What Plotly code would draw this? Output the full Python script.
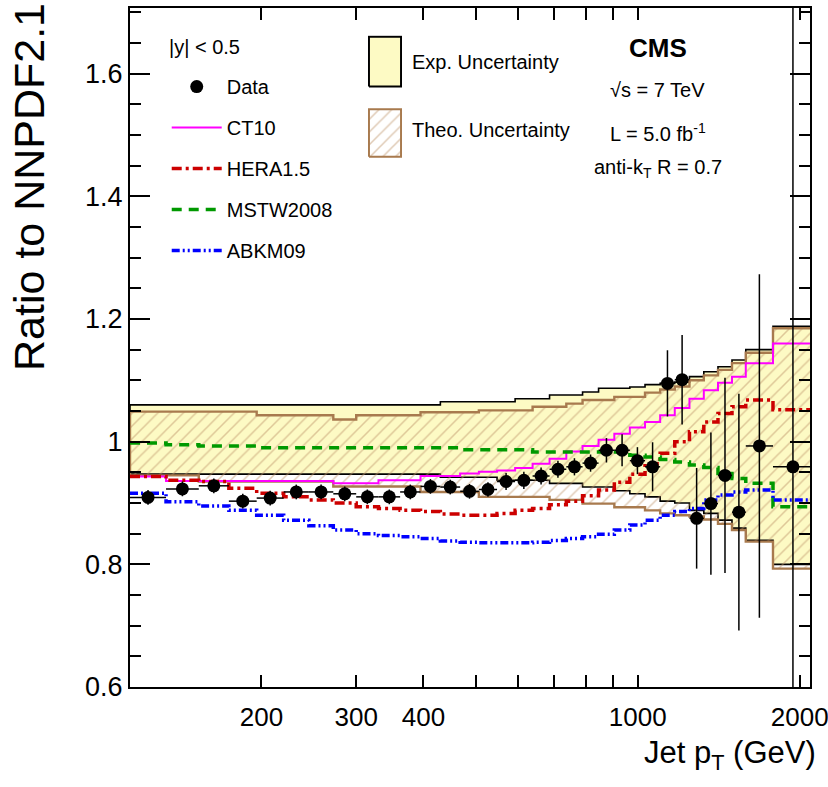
import numpy as np
import plotly.graph_objects as go

# ---------------- data ----------------
bin_edges = [114, 133, 153, 174, 196, 220, 245, 272, 300, 330, 362, 395, 430, 468,
             507, 548, 592, 638, 686, 737, 790, 846, 905, 967, 1032, 1101, 1172,
             1248, 1327, 1410, 1497, 1588, 1784, 2116]
x_range = [114, 2090]

data_ratio = [0.909, 0.923, 0.928, 0.903, 0.908, 0.918, 0.918, 0.915, 0.910, 0.910,
              0.918, 0.927, 0.926, 0.919, 0.922, 0.935, 0.937, 0.944, 0.955, 0.959,
              0.965, 0.986, 0.986, 0.969, 0.959, 1.095, 1.101, 0.875, 0.899, 0.945,
              0.885, 0.993, 0.959]
data_err = [0.012] * 15 + [0.014] * 6 + [0.02, 0.026, 0.022, 0.04, 0.054, 0.073,
                                         0.082, 0.116, 0.159, 0.193, 0.28, 0.8]

exp_up = [1.06] * 12 + [1.065] * 4 + [1.07] * 2 + [1.076] * 2 + [1.081] + [1.087] * 2 + \
         [1.089, 1.093, 1.095, 1.097, 1.106, 1.114, 1.122, 1.133, 1.150, 1.188]
exp_lo = [0.947] * 12 + [0.942] * 3 + [0.937] * 3 + [0.932] * 2 + [0.926] * 2 + \
         [0.920, 0.915, 0.910, 0.903, 0.900, 0.888, 0.883, 0.872, 0.859, 0.839, 0.800]
th_up = [1.049] * 4 + [1.043] * 3 + [1.036] + [1.043] * 3 + [1.048] * 3 + [1.051] * 3 + \
        [1.057] * 2 + [1.062] + [1.068] * 2 + [1.073] * 2 + \
        [1.080, 1.085, 1.090, 1.100, 1.108, 1.117, 1.128, 1.145, 1.185]
th_lo = [0.945] * 2 + [0.935] * 5 + [0.927] * 4 + [0.918] * 3 + [0.910] * 4 + [0.905] * 2 + \
        [0.899] * 2 + [0.893] * 2 + [0.888, 0.883, 0.880, 0.878, 0.873, 0.866, 0.856, 0.837, 0.793]

ct10 = [0.943] + [0.936] * 6 + [0.932] * 2 + [0.937] * 2 + [0.944] * 2 + [0.948] + \
       [0.951, 0.953, 0.957, 0.964, 0.972, 0.984, 0.993, 1.003, 1.013, 1.023, 1.032,
        1.043, 1.055, 1.07, 1.084, 1.096, 1.106, 1.128, 1.16]
hera = [0.943, 0.937, 0.935, 0.924, 0.916, 0.91, 0.905, 0.90, 0.894, 0.891, 0.888, 0.886,
        0.882, 0.88, 0.88, 0.883, 0.888, 0.891, 0.897, 0.903, 0.912, 0.921, 0.934, 0.947,
        0.964, 0.981, 1.0, 1.016, 1.032, 1.046, 1.057, 1.068, 1.052]
mstw = [0.998, 0.995, 0.993, 0.993] + [0.99] * 9 + [0.987] * 4 + [0.983] * 6 + \
       [0.978, 0.975, 0.971, 0.967, 0.962, 0.958, 0.948, 0.94, 0.932, 0.894]
abkm = [0.916, 0.902, 0.895, 0.888, 0.880, 0.872, 0.863, 0.856, 0.850, 0.847, 0.845, 0.842,
        0.838, 0.836, 0.835, 0.835, 0.835, 0.836, 0.839, 0.842, 0.845, 0.849, 0.856, 0.864,
        0.872, 0.880, 0.886, 0.891, 0.905, 0.913, 0.918, 0.921, 0.905]

x_ticks = [200, 300, 400, 1000, 2000]
x_tick_text = ["200", "300", "400", "1000", "2000"]
x_minor_ticks = [500, 600, 700, 800, 900]

# ---------------- helpers ----------------
edges = np.array(bin_edges, dtype=float)
lo, hi = edges[:-1], edges[1:]
centers = np.sqrt(lo * hi)


def step_xy(vals):
    xs, ys = [], []
    for a, b, v in zip(lo, hi, vals):
        xs += [a, b]
        ys += [v, v]
    return xs, ys


def band_polygon(up, dn):
    xu, yu = step_xy(up)
    xd, yd = step_xy(dn)
    return xu + xd[::-1] + [xu[0]], yu + yd[::-1] + [yu[0]]


FONT = "Liberation Sans, Arial, sans-serif"
YELLOW = "#fdfac4"
BROWN = "#a87a4e"
HATCH = dict(shape="/", fgcolor="#bf966b", bgcolor="rgba(0,0,0,0)", size=9, solidity=0.17)

fig = go.Figure()

# experimental uncertainty band
bx, by = band_polygon(exp_up, exp_lo)
fig.add_trace(go.Scatter(x=bx, y=by, mode="lines", fill="toself", fillcolor=YELLOW,
                         line=dict(color="black", width=1.6), name="Exp. Uncertainty",
                         showlegend=False, hoverinfo="skip"))
# theory uncertainty band (hatched)
tx, ty = band_polygon(th_up, th_lo)
fig.add_trace(go.Scatter(x=tx, y=ty, mode="lines", fill="toself",
                         fillcolor="rgba(0,0,0,0)", fillpattern=HATCH,
                         line=dict(color=BROWN, width=2.4), name="Theo. Uncertainty",
                         showlegend=False, hoverinfo="skip"))

xs_line = list(edges)


def add_model(vals, name, color, dash, width, rank):
    fig.add_trace(go.Scatter(x=xs_line, y=list(vals) + [vals[-1]], mode="lines",
                             line=dict(color=color, dash=dash, width=width, shape="hv"),
                             name=name, legendgroup=name, legendrank=rank))


add_model(ct10, "CT10", "#ff00ff", "solid", 2, 2)
add_model(hera, "HERA1.5", "#cc0000", "10px,4px,3px,4px", 3.5, 3)
add_model(mstw, "MSTW2008", "#009900", "10px,7px", 3.5, 4)
add_model(abkm, "ABKM09", "#0000ff", "8px,3px,2px,3px,2px,3px", 3.5, 5)

fig.add_trace(go.Scatter(
    x=centers, y=data_ratio, mode="markers", name="Data", legendgroup="Data", legendrank=1,
    marker=dict(color="black", size=13, symbol="circle"),
    error_y=dict(type="data", array=data_err, color="black", thickness=1.5, width=0),
    error_x=dict(type="data", array=list(hi - centers), arrayminus=list(centers - lo),
                 color="black", thickness=1.5, width=0)))

# legend swatches for the two bands, drawn in their own small unit axes
unit_box_x = [0, 1, 1, 0, 0]
unit_box_y = [0, 0, 1, 1, 0]
fig.add_trace(go.Scatter(x=unit_box_x, y=unit_box_y, mode="lines", fill="toself",
                         fillcolor=YELLOW, line=dict(color="black", width=2),
                         xaxis="x2", yaxis="y2", showlegend=False, hoverinfo="skip"))
fig.add_trace(go.Scatter(x=unit_box_x, y=unit_box_y, mode="lines", fill="toself",
                         fillcolor="rgba(0,0,0,0)", fillpattern=HATCH,
                         line=dict(color=BROWN, width=2),
                         xaxis="x3", yaxis="y3", showlegend=False, hoverinfo="skip"))

hidden = dict(visible=False, range=[-0.03, 1.03], fixedrange=True)

fig.update_layout(
    width=828, height=787,
    margin=dict(l=130, r=18, t=8, b=100, autoexpand=False),
    plot_bgcolor="white", paper_bgcolor="white",
    font=dict(family=FONT, color="black"),
    legend=dict(x=0.054, y=0.913, xanchor="left", yanchor="top", bgcolor="rgba(0,0,0,0)",
                font=dict(size=20, family=FONT), tracegroupgap=12, itemwidth=50),
    xaxis=dict(type="log", range=[np.log10(x_range[0]), np.log10(x_range[1])],
               tickvals=x_ticks, ticktext=x_tick_text, ticks="inside", ticklen=12,
               tickwidth=1.5, tickcolor="black", showline=True, linecolor="black",
               linewidth=2, mirror="allticks", showgrid=False, zeroline=False,
               tickfont=dict(size=26, family=FONT), ticklabelstandoff=6,
               ticklabeloverflow="allow", automargin=False,
               minor=dict(tickvals=x_minor_ticks, ticks="inside", ticklen=12,
                          tickwidth=1.5, tickcolor="black", showgrid=False)),
    yaxis=dict(range=[0.6, 1.707], tick0=0.6, dtick=0.2, ticks="inside", ticklen=20,
               tickwidth=1.5, tickcolor="black", showline=True, linecolor="black",
               linewidth=2, mirror="allticks", showgrid=False, zeroline=False,
               tickfont=dict(size=27, family=FONT), automargin=False,
               minor=dict(dtick=0.05, ticks="inside", ticklen=11, tickwidth=1.5,
                          tickcolor="black", showgrid=False)),
    xaxis2=dict(domain=[0.350, 0.400], anchor="y2", **hidden),
    yaxis2=dict(domain=[0.882, 0.960], anchor="x2", **hidden),
    xaxis3=dict(domain=[0.350, 0.400], anchor="y3", **hidden),
    yaxis3=dict(domain=[0.779, 0.853], anchor="x3", **hidden),
    annotations=[
        dict(text="Ratio to NNPDF2.1", xref="paper", yref="paper", x=0, y=1,
             xanchor="right", yanchor="top", xshift=-75, yshift=7, textangle=-90,
             showarrow=False, font=dict(size=43, family=FONT)),
        dict(text="Jet p<sub>T</sub> (GeV)", xref="paper", yref="paper", x=1, y=0,
             xanchor="right", yanchor="top", xshift=8, yshift=-46, showarrow=False,
             font=dict(size=31, family=FONT)),
        dict(text="|y| < 0.5", xref="paper", yref="paper", x=0.054, y=0.943,
             xanchor="left", yanchor="middle", showarrow=False, font=dict(size=20)),
        dict(text="Exp. Uncertainty", xref="paper", yref="paper", x=0.412, y=0.9205,
             xanchor="left", yanchor="middle", showarrow=False, font=dict(size=20)),
        dict(text="Theo. Uncertainty", xref="paper", yref="paper", x=0.412, y=0.8203,
             xanchor="left", yanchor="middle", showarrow=False, font=dict(size=20)),
        dict(text="<b>CMS</b>", xref="paper", yref="paper", x=0.776, y=0.941,
             xanchor="center", yanchor="middle", showarrow=False, font=dict(size=26)),
        dict(text="√s = 7 TeV", xref="paper", yref="paper", x=0.776, y=0.879,
             xanchor="center", yanchor="middle", showarrow=False, font=dict(size=20)),
        dict(text="L = 5.0 fb<sup>-1</sup>", xref="paper", yref="paper", x=0.776, y=0.817,
             xanchor="center", yanchor="middle", showarrow=False, font=dict(size=20)),
        dict(text="anti-k<sub>T</sub> R = 0.7", xref="paper", yref="paper", x=0.776, y=0.764,
             xanchor="center", yanchor="middle", showarrow=False, font=dict(size=20)),
    ],
)

fig.write_html("out.html")
